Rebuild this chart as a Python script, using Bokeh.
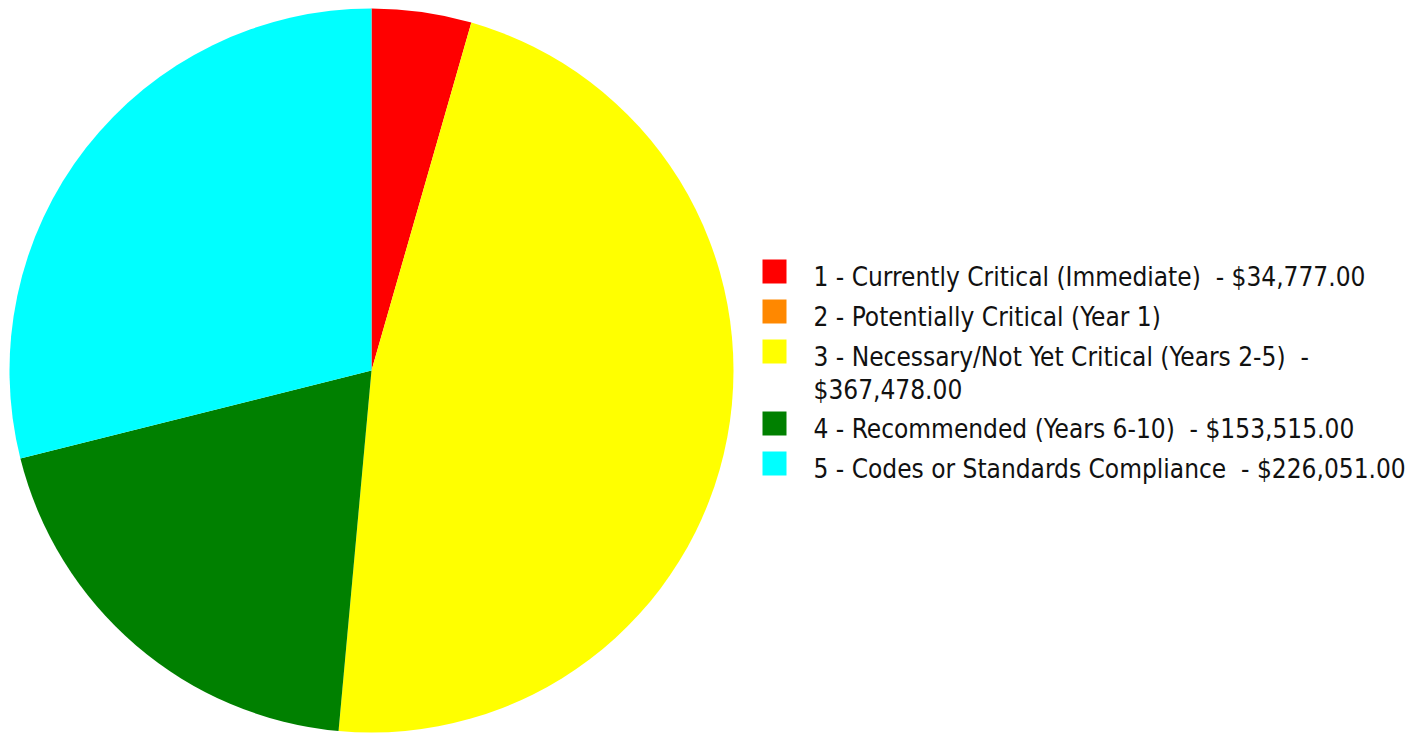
import numpy as np
from bokeh.plotting import figure
from bokeh.models import Range1d
from bokeh.core.properties import value
from bokeh.embed import file_html
from bokeh.resources import INLINE

categories = [
    "1 - Currently Critical (Immediate)  - $34,777.00",
    "2 - Potentially Critical (Year 1)",
    "3 - Necessary/Not Yet Critical (Years 2-5)  -\n$367,478.00",
    "4 - Recommended (Years 6-10)  - $153,515.00",
    "5 - Codes or Standards Compliance  - $226,051.00",
]
amounts = [34777.00, 0.0, 367478.00, 153515.00, 226051.00]
colors = ["#FF0000", "#FF8800", "#FFFF00", "#008000", "#00FFFF"]

W, H = 1427, 733
p = figure(width=W, height=H, output_backend="svg", toolbar_location=None,
           x_range=Range1d(0, W), y_range=Range1d(0, H), min_border=0)
p.axis.visible = False
p.grid.visible = False
p.outline_line_color = None
p.background_fill_color = "white"
p.border_fill_color = "white"

cx, cy, r = 371, H - 370, 362
vals = np.array(amounts)
frac = vals / vals.sum()
ends = np.cumsum(frac)
starts = ends - frac
start_ang = np.pi / 2 - starts * 2 * np.pi
end_ang = np.pi / 2 - ends * 2 * np.pi
for i in range(len(vals)):
    if vals[i] <= 0:
        continue
    p.wedge(x=cx, y=cy, radius=r, start_angle=end_ang[i], end_angle=start_ang[i],
            fill_color=colors[i], line_color=None)

font = value("DejaVu Sans Condensed")
ycur = 276
sw_x, tx = 774, 813
for i, lab in enumerate(categories):
    lines = lab.replace("  ", "\u00a0 ").split("\n")
    p.rect(x=sw_x, y=H - (ycur - 5), width=24, height=24, fill_color=colors[i], line_color=None)
    for j, ln in enumerate(lines):
        p.text(x=tx, y=H - (ycur + 33 * j), text=[ln], text_font=font, text_font_size="26px",
               text_baseline="middle", text_align="left", text_color="#111111")
    ycur += 40 + 32 * (len(lines) - 1)

open("out.html", "w").write(file_html(p, INLINE))
